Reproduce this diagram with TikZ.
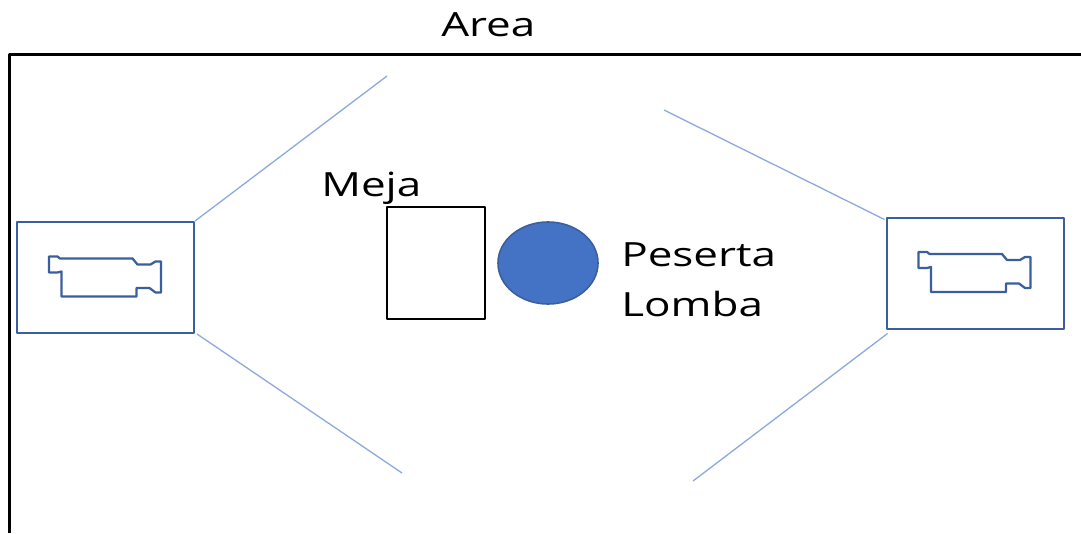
\documentclass[tikz,border=0pt]{standalone}
\usepackage{fontspec}
\setmainfont{Open Sans}
\usetikzlibrary{shapes.geometric}
\definecolor{camblue}{HTML}{3A5F9E}
\definecolor{rayblue}{HTML}{8FAADC}
\definecolor{fillblue}{HTML}{4472C4}
\tikzset{
    label/.style={inner sep=0pt, anchor=base west, font=\fontsize{25}{30}\selectfont},
    cambox/.style={draw=camblue, line width=1.5pt, inner sep=0pt, minimum width=132.75pt, minimum height=83.25pt},
    ray/.style={draw=rayblue, line width=1pt},
    camera/.pic={
        \draw[camblue, line width=1.7pt, line join=round] (-56.5,-21) -- (-48,-21) -- (-45.5,-19) -- (27,-19) -- (32,-13) -- (45,-13) -- (50,-16) -- (55.5,-16) -- (55.5,15) -- (50,15) -- (44,10.5) -- (31,10.5) -- (31,19) -- (-44,19) -- (-44,-6) -- (-48,-5) -- (-56.5,-5) -- cycle;
    }
}
\newcommand{\widetext}[1]{\scalebox{1.32}[1]{#1}}
\begin{document}
\begin{tikzpicture}[x=0.75pt, y=-0.75pt, line join=round]
    \useasboundingbox (0,0) rectangle (1081,533);
    % area
    \draw[line width=1.6pt] (9.5,533) -- (9.5,54.5) -- (1081,54.5);
    \node[label] (area) at (441,36) {\widetext{Area}};
    % meja dan peserta
    \node[draw, line width=1.4pt, inner sep=0pt, minimum width=73.5pt, minimum height=84pt] (meja) at (436,263) {};
    \node[ellipse, draw=camblue, fill=fillblue, line width=1.2pt, inner sep=0pt, minimum width=75pt, minimum height=61.5pt] (peserta) at (548,263) {};
    \node[label] (mejatext) at (321,196) {\widetext{Meja}};
    \node[label] (pesertatext) at (621,266) {\widetext{Peserta}};
    \node[label] (lombatext) at (621,316) {\widetext{Lomba}};
    % kamera
    \node[cambox] (camleft) at (105.5,277.5) {};
    \node[cambox] (camright) at (975,273) {};
    \pic at (camleft) {camera};
    \pic at (camright) {camera};
    % sudut pandang
    \coordinate (rayla) at (387,76);
    \coordinate (raylb) at (402,473);
    \coordinate (rayra) at (664,110);
    \coordinate (rayrb) at (693,481);
    \draw[ray] (camleft.north east) -- (rayla);
    \draw[ray] (camleft.south east) ++(2,0) -- (raylb);
    \draw[ray] (camright.north west) ++(-1,3) -- (rayra);
    \draw[ray] (camright.south west) ++(2,4) -- (rayrb);
\end{tikzpicture}
\end{document}
